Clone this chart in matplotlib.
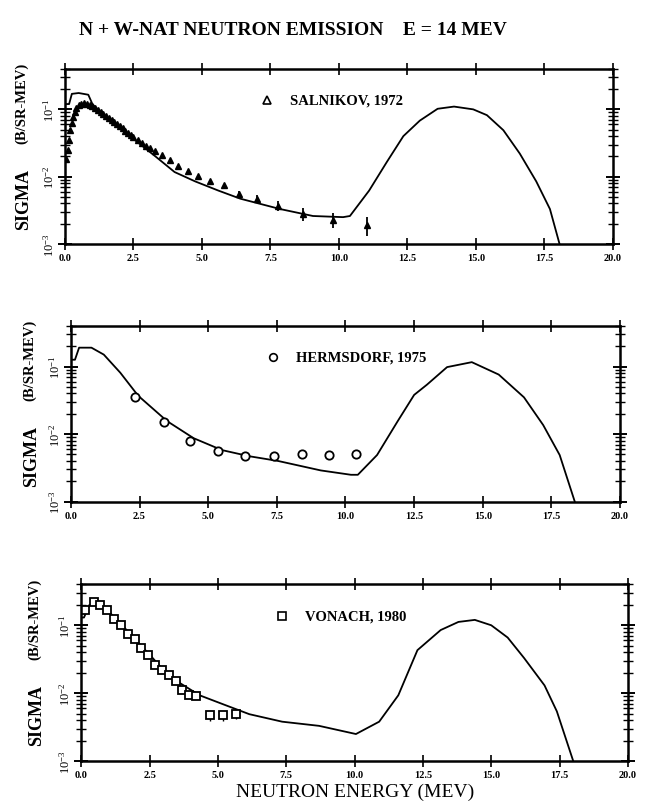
import numpy as np
import matplotlib
matplotlib.use("Agg")
import matplotlib.pyplot as plt
from matplotlib.ticker import LogLocator, FixedLocator, NullFormatter

plt.rcParams['font.family'] = ['Liberation Serif', 'DejaVu Serif']
plt.rcParams['mathtext.fontset'] = 'dejavuserif'

# calculated spectra (MeV, b/sr-MeV)
calc1_e = [0.0, 0.15, 0.25, 0.5, 0.85, 1.0, 1.5, 2.0, 2.55, 3.3, 4.0, 4.75, 5.6, 6.4, 7.85,
           9.05, 10.15, 10.4, 11.1, 11.75, 12.35, 12.95, 13.6, 14.2, 14.9, 15.4, 16.0,
           16.6, 17.2, 17.7, 18.05]
calc1_s = [0.12, 0.12, 0.17, 0.175, 0.165, 0.12, 0.075, 0.052, 0.035, 0.020, 0.0117, 0.0085,
           0.0062, 0.0047, 0.0033, 0.0026, 0.0025, 0.0026, 0.0062, 0.0166, 0.040, 0.068,
           0.102, 0.11, 0.10, 0.082, 0.049, 0.022, 0.0085, 0.0033, 0.001]

calc2_e = [0.0, 0.15, 0.3, 0.75, 1.2, 1.8, 2.45, 3.5, 4.47, 5.5, 6.5, 7.55, 9.1, 10.2, 10.45,
           11.15, 11.9, 12.5, 12.97, 13.7, 14.6, 15.58, 16.5, 17.2, 17.8, 18.35]
calc2_s = [0.126, 0.126, 0.19, 0.19, 0.15, 0.081, 0.037, 0.0156, 0.0087, 0.0058, 0.0047,
           0.0040, 0.0029, 0.0025, 0.0025, 0.0049, 0.0155, 0.038, 0.054, 0.098, 0.116,
           0.076, 0.035, 0.0136, 0.0049, 0.001]

calc3_e = [0.0, 0.1, 0.3, 0.7, 1.0, 1.5, 2.0, 2.5, 3.0, 3.5, 4.33, 5.3, 6.15, 7.35, 8.7,
           10.05, 10.9, 11.6, 12.3, 13.15, 13.8, 14.4, 15.0, 15.6, 16.2, 16.95, 17.4, 18.0]
calc3_s = [0.13, 0.13, 0.2, 0.2, 0.16, 0.1, 0.06, 0.037, 0.022, 0.015, 0.0093, 0.0066, 0.0049,
           0.0038, 0.0033, 0.0025, 0.0038, 0.0093, 0.043, 0.085, 0.112, 0.12, 0.10, 0.066,
           0.033, 0.013, 0.0054, 0.001]

# Salnikov 1972
sal_e = [0.05, 0.10, 0.15, 0.20, 0.25, 0.30, 0.35, 0.40, 0.50, 0.60, 0.70, 0.80, 0.90, 1.00,
         1.10, 1.20, 1.30, 1.40, 1.50, 1.60, 1.70, 1.80, 1.90, 2.00, 2.10, 2.20, 2.30, 2.40,
         2.50, 2.65, 2.80, 2.95, 3.10, 3.30, 3.55, 3.83, 4.12, 4.49, 4.85, 5.29, 5.80, 6.35,
         7.00, 7.77, 8.69, 9.78, 11.02]
sal_s = [0.018, 0.025, 0.035, 0.050, 0.062, 0.078, 0.092, 0.104, 0.115, 0.122, 0.125, 0.122,
         0.118, 0.112, 0.105, 0.098, 0.092, 0.086, 0.080, 0.075, 0.070, 0.065, 0.060, 0.056,
         0.052, 0.048, 0.045, 0.042, 0.039, 0.035, 0.032, 0.029, 0.027, 0.024, 0.021, 0.0175,
         0.0145, 0.0123, 0.0103, 0.0085, 0.0074, 0.0055, 0.0047, 0.0037, 0.0028, 0.0023, 0.0019]
sal_err_e = [6.35, 7.00, 7.77, 8.69, 9.78, 11.02]
sal_err_s = [0.0055, 0.0047, 0.0037, 0.0028, 0.0023, 0.0019]
sal_err = [0.0006, 0.0006, 0.0006, 0.0006, 0.0006, 0.0006]

# Hermsdorf 1975
her_e = [2.35, 3.4, 4.35, 5.35, 6.35, 7.4, 8.4, 9.4, 10.4]
her_s = [0.035, 0.015, 0.0079, 0.0056, 0.0047, 0.0047, 0.0050, 0.0049, 0.0050]
her_err = [0.004, 0.0017, 0.0009, 0.0006, 0.0005, 0.0005, 0.0005, 0.0005, 0.0005]

# Vonach 1980
von_e = [0.15, 0.45, 0.7, 0.95, 1.2, 1.45, 1.7, 1.95, 2.2, 2.45, 2.7, 2.95, 3.2, 3.45, 3.7,
         3.95, 4.2, 4.7, 5.2, 5.65]
von_s = [0.17, 0.22, 0.2, 0.166, 0.123, 0.1, 0.074, 0.062, 0.047, 0.037, 0.026, 0.022,
         0.0185, 0.015, 0.011, 0.0095, 0.0091, 0.0047, 0.0047, 0.005]
von_err = [0, 0, 0, 0, 0, 0, 0, 0, 0, 0, 0, 0, 0, 0, 0, 0, 0, 0.0008, 0.0008, 0.0008]

xticks = [0.0, 2.5, 5.0, 7.5, 10.0, 12.5, 15.0, 17.5, 20.0]

fig = plt.figure(figsize=(6.5, 8.03), dpi=100)

boxes = [[0.100, 0.695, 0.843, 0.218],
         [0.109, 0.374, 0.845, 0.219],
         [0.125, 0.051, 0.841, 0.220]]
ylab_x = [0.036, 0.048, 0.056]
legend_txt = ['SALNIKOV, 1972', 'HERMSDORF, 1975', 'VONACH, 1980']
legend_mk = ['^', 'o', 's']

axes = []
for i, b in enumerate(boxes):
    ax = fig.add_axes(b)
    ax.set_yscale('log')
    ax.set_xlim(0, 20)
    ax.set_ylim(1e-3, 0.4)
    for s in ax.spines.values():
        s.set_linewidth(1.8)
    ax.xaxis.set_major_locator(FixedLocator(xticks))
    ax.set_xticklabels(['%.1f' % t for t in xticks], fontsize=7.5, fontweight='bold')
    ax.tick_params(axis='x', which='major', direction='inout', length=9, width=1.2,
                   top=True, pad=2)
    ax.yaxis.set_major_locator(LogLocator(base=10, numticks=10))
    ax.yaxis.set_minor_locator(LogLocator(base=10, subs=np.arange(2, 10), numticks=10))
    ax.yaxis.set_minor_formatter(NullFormatter())
    ax.tick_params(axis='y', which='major', direction='inout', length=10, width=1.4,
                   right=True, labelsize=9, pad=1)
    ax.tick_params(axis='y', which='minor', direction='inout', length=7, width=1.0,
                   right=True)
    for lab in ax.get_yticklabels():
        lab.set_rotation(90)
        lab.set_va('center')
    # y label
    yc = b[1] + b[3] * 0.42
    fig.text(ylab_x[i], yc - 0.035, 'SIGMA', rotation=90, fontsize=13, fontweight='bold',
             ha='center', va='center')
    fig.text(ylab_x[i] - 0.003, yc + 0.085, '(B/SR-MEV)', rotation=90, fontsize=10.5,
             fontweight='bold', ha='center', va='center')
    # legend entry
    ax.plot([0.368], [0.82], legend_mk[i], mfc='none', mec='black', ms=5.5, mew=1.2,
            transform=ax.transAxes, clip_on=False)
    ax.text(0.41, 0.82, legend_txt[i], transform=ax.transAxes, fontsize=10.5,
            fontweight='bold', va='center', ha='left')
    axes.append(ax)

ax1, ax2, ax3 = axes
ax1.plot(calc1_e, calc1_s, color='black', lw=1.3)
ax1.plot(sal_e, sal_s, '^', color='black', ms=5, mfc='black', mec='black')
ax1.errorbar(sal_err_e, sal_err_s, yerr=sal_err, fmt='none', ecolor='black', elinewidth=1.3)

ax2.plot(calc2_e, calc2_s, color='black', lw=1.3)
ax2.errorbar(her_e, her_s, yerr=her_err, fmt='o', mfc='white', mec='black', ms=6, mew=1.3,
             ecolor='black', elinewidth=1.0)

ax3.plot(calc3_e, calc3_s, color='black', lw=1.3)
ax3.errorbar(von_e, von_s, yerr=von_err, fmt='s', mfc='white', mec='black', ms=5.5, mew=1.3,
             ecolor='black', elinewidth=1.0)

fig.text(0.45, 0.962, 'N + W-NAT NEUTRON EMISSION    E = 14 MEV', fontsize=14,
         fontweight='bold', ha='center', va='center')
fig.text(0.546, 0.013, 'NEUTRON ENERGY (MEV)', fontsize=14, ha='center', va='center')

fig.savefig('out.png', dpi=100)
